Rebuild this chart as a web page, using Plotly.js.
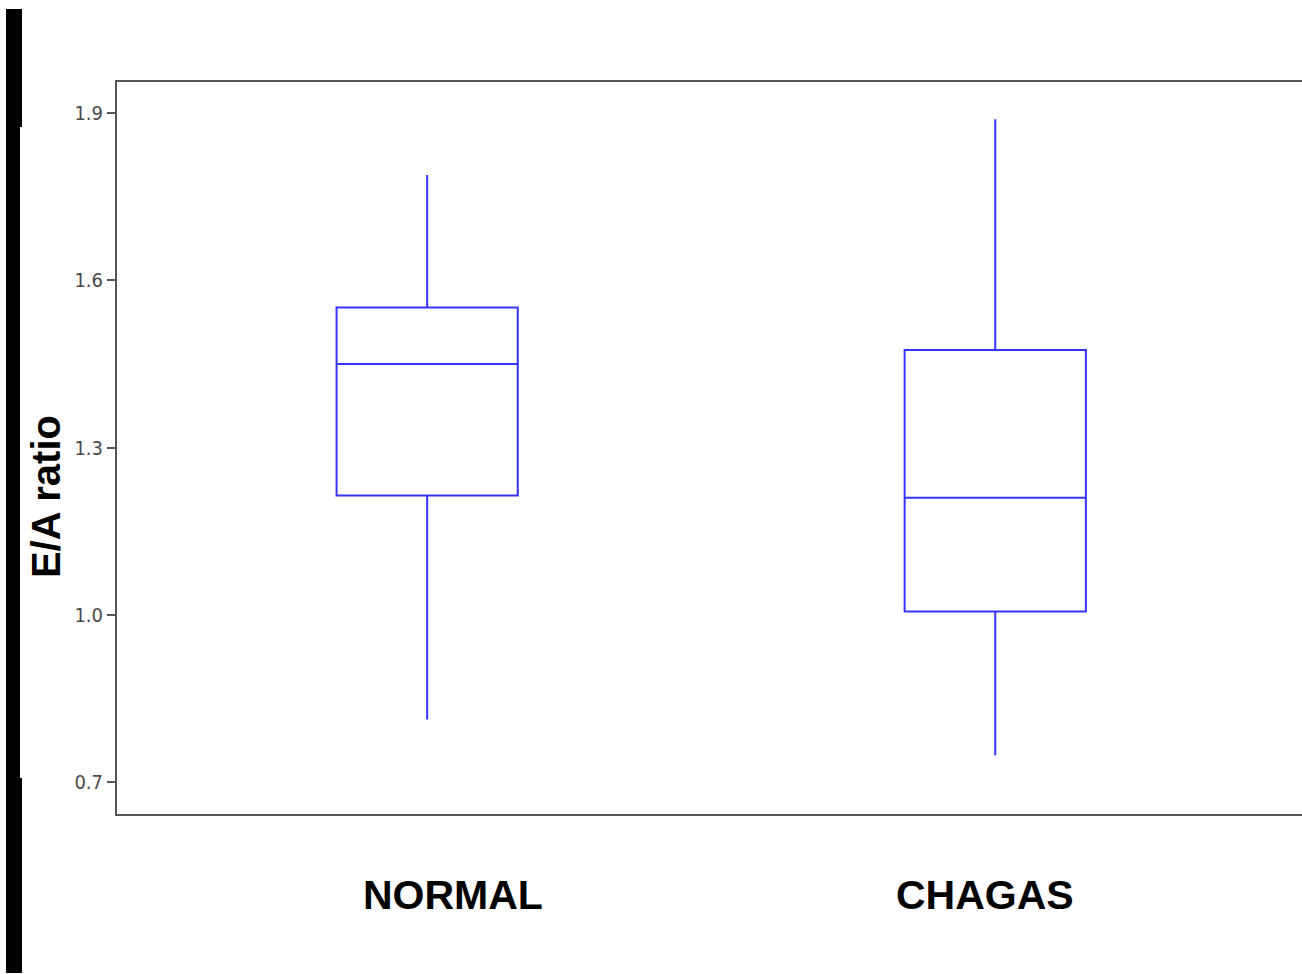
<!DOCTYPE html>
<html>
<head>
<meta charset="utf-8">
<script src="https://cdn.plot.ly/plotly-3.0.1.min.js"></script>
<style>
html,body{margin:0;padding:0;background:#fff;overflow:hidden;}
#chart{width:1302px;height:974px;position:absolute;left:0;top:0;}
.bar{position:absolute;background:#000;}
</style>
</head>
<body>
<div id="chart"></div>
<div class="bar" style="left:6px;top:9px;width:14px;height:964px;"></div>
<div class="bar" style="left:20px;top:9px;width:2px;height:118px;"></div>
<div class="bar" style="left:20px;top:778px;width:2px;height:195px;"></div>
<script>
const categories = ['NORMAL', 'CHAGAS'];
const positions = [0, 1];
const lowerFence = [0.812, 0.748];
const q1 = [1.214, 1.006];
const median = [1.450, 1.210];
const q3 = [1.551, 1.475];
const upperFence = [1.789, 1.889];
const yTickVals = [0.7, 1.0, 1.3, 1.6, 1.9];
const yTickText = ['0.7', '1.0', '1.3', '1.6', '1.9'];
const labelOffsets = [0.046, -0.018];

const trace = {
  type: 'box',
  x: positions,
  q1: q1,
  median: median,
  q3: q3,
  lowerfence: lowerFence,
  upperfence: upperFence,
  width: 0.319,
  whiskerwidth: 0,
  fillcolor: 'rgba(255,255,255,0)',
  line: {color: '#3434ff', width: 2},
  boxpoints: false,
  hoverinfo: 'skip'
};

const annotations = categories.map((c, i) => ({
  text: c,
  xref: 'x', yref: 'paper',
  x: positions[i] + labelOffsets[i], y: -0.1107,
  xanchor: 'center', yanchor: 'middle',
  showarrow: false,
  font: {family: 'Liberation Sans, Arial, sans-serif', size: 41, color: '#000', weight: 'bold'}
}));
annotations.push({
  text: 'E/A ratio',
  xref: 'paper', yref: 'paper',
  x: -0.0599, y: 0.433,
  xanchor: 'center', yanchor: 'middle',
  textangle: -90,
  showarrow: false,
  font: {family: 'Liberation Sans, Arial, sans-serif', size: 40, color: '#000', weight: 'bold'}
});

const layout = {
  width: 1302, height: 974,
  margin: {l: 117, r: 0, t: 82, b: 160},
  paper_bgcolor: '#fff', plot_bgcolor: '#fff',
  showlegend: false,
  xaxis: {
    range: [-0.546, 1.540],
    showgrid: false, zeroline: false,
    showticklabels: false, ticks: '',
    showline: true, mirror: true,
    linecolor: '#555', linewidth: 2
  },
  yaxis: {
    range: [0.6427, 1.9556],
    tickvals: yTickVals, ticktext: yTickText,
    showgrid: false, zeroline: false,
    ticks: 'outside', ticklen: 8, tickwidth: 2, tickcolor: '#555',
    showline: true, mirror: false,
    linecolor: '#555', linewidth: 2,
    tickfont: {family: 'DejaVu Sans Condensed, sans-serif', size: 20, color: '#4a4a4a'}
  },
  annotations: annotations
};

Plotly.newPlot('chart', [trace], layout, {staticPlot: true, displayModeBar: false});
</script>
</body>
</html>
